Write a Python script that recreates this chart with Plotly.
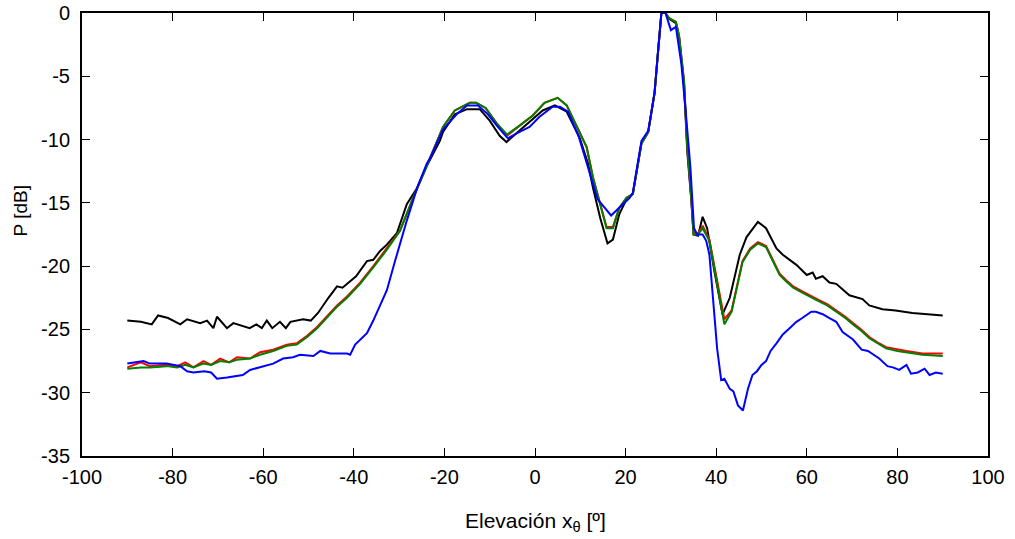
import plotly.graph_objects as go

# Black series
x_black = [-90, -87, -84.6, -83.2, -81, -78.3, -76.8, -73.9, -72.4, -71, -70.2, -68, -66.6, -63, -61.5,
           -60.3, -59.2, -58, -56.3, -55, -54, -51.2, -49.5, -47.9, -45.6, -43.7, -42.5, -39.5, -37.1,
           -35.7, -34.2, -32.7, -30.5, -28.3, -26, -23.9, -21, -20.3, -17.7, -15, -12.2, -10, -7.8, -6.3,
           -4.1, -1.2, 1.7, 4.4, 7, 9.9, 11.7, 12.8, 14.4, 16, 17.2, 18.6, 20.2, 21.6, 23.5, 25, 26.4, 27,
           27.9, 28.8, 29.6, 31.1, 31.8, 32.9, 33.6, 34.5, 35, 36, 37, 38, 39.6, 41.4, 43, 45.2, 46.7,
           49.2, 51, 53.3, 54.7, 57.7, 60, 61.3, 62, 63.5, 65, 66.5, 69.4, 72.3, 73.8, 76.7, 79.6, 83.3, 90]
y_black = [-24.3, -24.4, -24.6, -23.9, -24.1, -24.6, -24.2, -24.5, -24.3, -24.9, -24.0, -24.9, -24.5, -24.9, -24.6,
           -24.9, -24.3, -24.9, -24.4, -24.9, -24.4, -24.2, -24.3, -23.7, -22.5, -21.6, -21.7, -20.8, -19.6,
           -19.5, -18.8, -18.3, -17.4, -15.1, -13.8, -12.1, -10.1, -9.4, -8.0, -7.6, -7.6, -8.5, -9.7, -10.2,
           -9.5, -8.6, -7.7, -7.3, -7.8, -9.9, -11.9, -13.8, -16.2, -18.2, -17.9, -15.9, -14.7, -14.3, -10.3, -9.4, -6.3, -3.7,
           0, 0, -0.45, -0.8, -1.9, -5.6, -10.9, -14.8, -17.5, -17.6, -16.1, -17.0, -20.4, -23.8, -22.5, -19.1, -17.7,
           -16.5, -17.0, -18.6, -19.1, -19.9, -20.7, -20.5, -21.0, -20.8, -21.3, -21.4, -22.3, -22.6, -23.1, -23.4, -23.5, -23.7, -23.9]

# Red and green series (shared abscissae)
x_rg = [-90, -87, -85, -81.3, -79, -77.2, -75.4, -73.2, -71.5, -69.5, -67.5, -65.8, -62.9, -60.7, -57.8,
        -54.8, -52.6, -50.3, -48.1, -46, -43.7, -41.5, -38.6, -35.7, -32.7, -29.8, -26.9, -23.9, -23.2, -20.3,
        -17.7, -14.4, -13, -10.9, -8.5, -6.2, -3.4, -0.5, 2.1, 5, 7, 9.2, 11.4, 12.8, 14.4, 15.8, 17.2, 18.6,
        20.2, 21.6, 23.5, 25, 26.4, 27, 27.9, 28.8, 29.6, 31.1, 31.8, 32.9, 33.6, 34.5, 35, 36, 37, 38.5, 40,
        41.8, 43.4, 45.8, 47.5, 49.2, 51, 52.5, 54, 55.4, 57, 59, 61, 62.8, 64.5, 66.5, 68.5, 70.2, 72, 73.8,
        75.5, 77.5, 80, 82, 85.5, 90]
y_red = [-28.0, -27.6, -27.9, -27.8, -27.9, -27.6, -28.0, -27.5, -27.8, -27.3, -27.6, -27.2, -27.3, -26.8, -26.6,
         -26.2, -26.1, -25.5, -24.8, -24.0, -23.1, -22.4, -21.3, -20.0, -18.6, -17.2, -14.6, -12.1, -11.5, -9.0,
         -7.7, -7.1, -7.1, -7.5, -8.7, -9.7, -8.9, -8.1, -7.1, -6.7, -7.3, -9.0, -10.6, -13.0, -15.1, -16.9, -16.9, -15.4,
         -14.6, -14.3, -10.3, -9.4, -6.3, -3.7, 0, 0, -0.4, -0.7, -1.8, -5.4, -10.5, -14.6, -17.4, -17.4, -16.8, -17.9, -20.8,
         -24.2, -23.5, -19.6, -18.6, -18.1, -18.4, -19.5, -20.6, -21.1, -21.6, -22.0, -22.4, -22.7, -23.0, -23.5, -24.0, -24.5, -25.0, -25.6,
         -26.0, -26.4, -26.6, -26.7, -26.9, -26.9]
y_green = [-28.1, -28.0, -28.0, -27.9, -28.0, -27.8, -28.0, -27.7, -27.8, -27.5, -27.6, -27.4, -27.3, -27.0, -26.7,
           -26.3, -26.2, -25.6, -24.9, -24.1, -23.2, -22.5, -21.4, -20.1, -18.7, -17.2, -14.6, -12.1, -11.5, -9.0,
           -7.7, -7.1, -7.1, -7.5, -8.7, -9.6, -8.9, -8.1, -7.1, -6.7, -7.3, -9.0, -10.6, -13.0, -15.1, -17.0, -17.0, -15.4,
           -14.6, -14.3, -10.3, -9.4, -6.3, -3.7, 0, 0, -0.4, -0.7, -1.8, -5.4, -10.5, -14.6, -17.5, -17.5, -17.0, -18.0, -20.9,
           -24.6, -23.6, -19.7, -18.7, -18.2, -18.5, -19.6, -20.7, -21.2, -21.7, -22.1, -22.5, -22.8, -23.1, -23.6, -24.1, -24.6, -25.1, -25.7,
           -26.1, -26.5, -26.7, -26.8, -27.0, -27.1]

# Blue series
x_blue = [-90, -86.4, -85, -81.3, -78.3, -76.8, -75.4, -73, -71.5, -70.2, -68, -66.6, -64.5, -62.9, -59.9,
          -57.8, -55.6, -53.4, -51.9, -48.9, -47.4, -45.2, -41.5, -40.8, -39.7, -37.1, -35.7, -32.7, -30.9, -28.3,
          -26, -23.9, -23.2, -20.3, -17.3, -15, -12.6, -10.4, -8.2, -6, -3.4, -1.2, 1, 3.9, 5.5, 7.3, 9.6, 12.3,
          13.8, 16.8, 18.2, 20.9, 21.6, 23.5, 25, 26.4, 27, 27.9, 28.8, 30, 31.1, 32.3, 33.3, 34.3, 35.1, 35.8, 37,
          37.8, 38.5, 39.3, 40.2, 41.1, 41.8, 43, 43.8, 44.8, 45.9, 47, 48, 49, 50, 51, 52, 53.3, 54.7, 56.2, 57.7,
          59, 61, 62, 63.5, 65, 66.5, 67.9, 70.2, 72.1, 73.5, 76, 77.8, 79, 80.4, 82, 83, 84.5, 86, 87.1, 88.5, 90]
y_blue = [-27.7, -27.5, -27.7, -27.7, -27.9, -28.3, -28.4, -28.3, -28.4, -28.9, -28.8, -28.7, -28.6, -28.2, -27.9,
          -27.7, -27.3, -27.2, -27.0, -27.1, -26.7, -26.9, -26.9, -27.0, -26.2, -25.3, -24.3, -21.9, -19.6, -16.4,
          -13.8, -11.9, -11.5, -9.2, -8.0, -7.3, -7.3, -8.0, -9.0, -9.9, -9.4, -9.0, -8.2, -7.4, -7.4, -7.8, -9.7, -13.0,
          -14.7, -16.0, -15.5, -14.6, -14.2, -10.1, -9.3, -6.3, -3.7, 0, 0, -1.35, -1.1, -4.0, -7.9, -12.2, -17.0, -17.5, -17.5,
          -18.0, -19.1, -22.3, -26.5, -29.0, -28.9, -29.7, -29.9, -31.0, -31.4, -29.7, -28.6, -28.3, -27.8, -27.5, -26.7, -26.1, -25.4, -24.9, -24.4,
          -24.1, -23.6, -23.6, -23.8, -24.1, -24.4, -25.2, -25.8, -26.6, -26.7, -27.3, -27.9, -28.0, -28.2, -27.8, -28.5, -28.4, -28.1, -28.6, -28.4, -28.5]

x_ticks = [-100, -80, -60, -40, -20, 0, 20, 40, 60, 80, 100]
y_ticks = [0, -5, -10, -15, -20, -25, -30, -35]
x_title = "Elevación x<sub>θ</sub> [º]"
y_title = "P [dB]"

fig = go.Figure()
for xs, ys, col in [(x_black, y_black, "#000000"), (x_rg, y_red, "#ff0000"),
                    (x_rg, y_green, "#008000"), (x_blue, y_blue, "#0000ff")]:
    fig.add_trace(go.Scatter(x=xs, y=ys, mode="lines", line=dict(color=col, width=2), showlegend=False))

family = "Liberation Sans, Arial, sans-serif"
tick_font = dict(family=family, size=20, color="#000000")
xtitle_font = dict(family=family, size=21, color="#000000")
ytitle_font = dict(family=family, size=19, color="#000000")
fig.update_layout(
    width=1015, height=539,
    margin=dict(l=82, r=27, t=13, b=83, autoexpand=False),
    paper_bgcolor="white", plot_bgcolor="white",
    font=tick_font,
    showlegend=False,
    annotations=[
        dict(text=x_title, xref="paper", yref="paper", x=0.5, y=-0.149, xanchor="center", yanchor="middle",
             showarrow=False, font=xtitle_font),
        dict(text=y_title, xref="paper", yref="paper", x=-0.068, y=0.553, xanchor="center", yanchor="middle",
             showarrow=False, font=ytitle_font, textangle=-90),
    ],
)
fig.update_xaxes(
    range=[-100, 100], tickvals=x_ticks, ticktext=[str(v) for v in x_ticks],
    ticks="inside", ticklen=8, tickwidth=1, tickcolor="#000000",
    showline=True, linecolor="#000000", linewidth=2, mirror="ticks",
    showgrid=False, zeroline=False, ticklabelstandoff=2, automargin=False,
    tickfont=tick_font,
)
fig.update_yaxes(
    range=[-35, 0], tickvals=y_ticks, ticktext=[str(v) for v in y_ticks],
    ticks="inside", ticklen=8, tickwidth=1, tickcolor="#000000",
    showline=True, linecolor="#000000", linewidth=2, mirror="ticks",
    showgrid=False, zeroline=False, ticklabelstandoff=6, automargin=False,
    tickfont=tick_font,
)

fig.write_html("out.html")
